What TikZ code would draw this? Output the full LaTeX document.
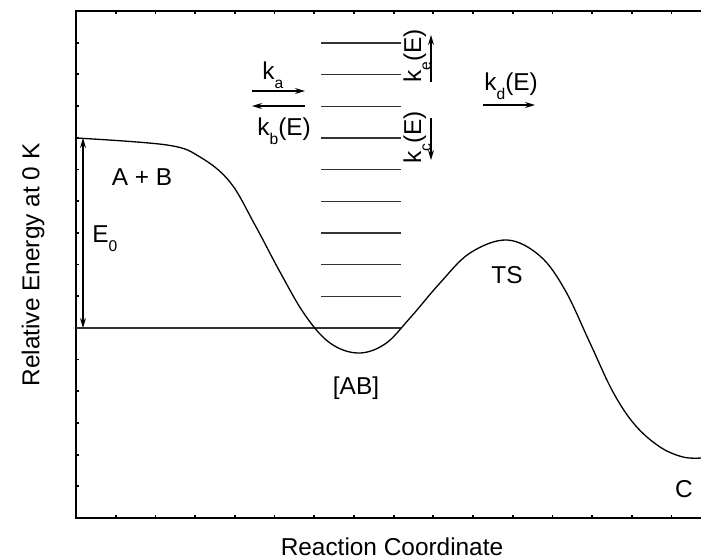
\documentclass[tikz,border=0pt]{standalone}
\usepackage{fontspec}
\setmainfont{Liberation Sans}
\usetikzlibrary{arrows.meta}
\newcommand{\lowsub}[1]{\raisebox{-0.4em}{\fontsize{7.8}{8}\selectfont #1}}

\begin{document}
\begin{tikzpicture}[x=0.5pt,y=-0.5pt,
 lbl/.style={inner sep=0pt,font=\fontsize{12.2}{14}\selectfont},
 axis/.style={line width=0.9pt},
 lvl/.style={line width=0.55pt,black!80},
 arr/.style={-{Stealth[length=5pt,width=3pt]},line width=0.6pt},
 dblarr/.style={{Stealth[length=5pt,width=3pt]}-{Stealth[length=5pt,width=3pt]},line width=0.6pt}]
\useasboundingbox (0,0) rectangle (701,558);
% frame and ticks
\draw[axis] (701,11) -- (76,11) -- (76,518) -- (701,518);
\foreach \k in {1,...,15} {
  \draw[axis] (76,518-31.69*\k) -- ++(3,0);
  \draw[axis] (76+39.7*\k,11) -- ++(0,3);
  \draw[axis] (76+39.7*\k,518) -- ++(0,-3);
}
% vibrational levels of the complex
\draw[lvl] (76,328) -- (401,328);
\foreach \k in {0,...,8}
  \draw[lvl] (321,43+31.67*\k) -- (401,43+31.67*\k);
% energy profile
\draw[line width=0.65pt] plot[smooth,tension=0.6] coordinates {
  (76,138) (167,145) (200,157) (230,182) (255,225) (280,272) (305,315)
  (330,343) (358,353) (385,344) (410,318) (440,283) (470,253) (507,240)
  (540,256) (565,290) (590,343) (613,392) (635,425) (660,447) (683,457)
  (701,458)};
% labels
\node[lbl,anchor=base] (reac) at (142,185) {A + B};
\node[lbl,anchor=base west] (ezero) at (92,242) {E\lowsub{0}};
\node[lbl,anchor=base] (cplx) at (356,394) {[AB]};
\node[lbl,anchor=base] (ts) at (507,283) {TS};
\node[lbl,anchor=base] (prod) at (684,497) {C};
\node[lbl,anchor=base west] (ka) at (262,79) {k\lowsub{a}};
\node[lbl,anchor=base west] (kb) at (257,135) {k\lowsub{b}(E)};
\node[lbl,anchor=base west] (kd) at (484,90) {k\lowsub{d}(E)};
\node[lbl,anchor=base west,rotate=90] (ke) at (421,83) {k\lowsub{e}(E)};
\node[lbl,anchor=base west,rotate=90] (kc) at (421,164) {k\lowsub{c}(E)};
\node[lbl,rotate=90] (ylab) at (33,265) {Relative Energy at 0 K};
\node[lbl,anchor=base] (xlab) at (392,555) {Reaction Coordinate};
% rate arrows
\coordinate (eTop) at (83,138); \coordinate (eBot) at (83,328);
\draw[dblarr] (eBot) -- (eTop);
\coordinate (kaL) at (252,91); \coordinate (kaR) at (305,91);
\draw[arr] (kaL) -- (kaR);
\coordinate (kbR) at (305,106); \coordinate (kbL) at (252,106);
\draw[arr] (kbR) -- (kbL);
\coordinate (kdL) at (483,105); \coordinate (kdR) at (535,105);
\draw[arr] (kdL) -- (kdR);
\coordinate (keB) at (431,82); \coordinate (keT) at (431,35);
\draw[arr] (keB) -- (keT);
\coordinate (kcT) at (431,118); \coordinate (kcB) at (431,160);
\draw[arr] (kcT) -- (kcB);
\end{tikzpicture}
\end{document}
